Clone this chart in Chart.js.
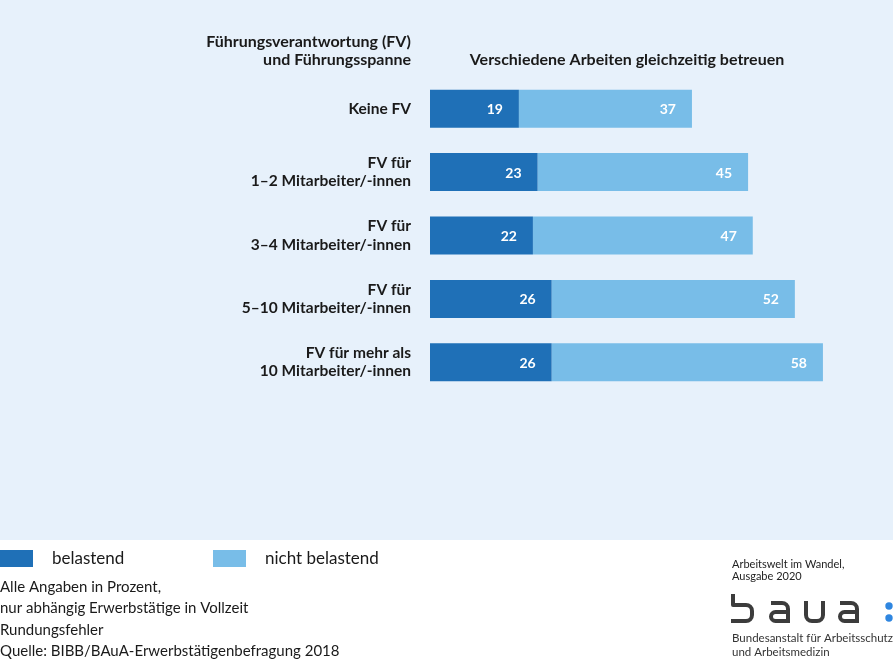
<!DOCTYPE html>
<html lang="de">
<head>
<meta charset="utf-8">
<title>Verschiedene Arbeiten gleichzeitig betreuen</title>
<script src="https://cdn.jsdelivr.net/npm/chart.js@4.4.1/dist/chart.umd.min.js"></script>
<style>
  html, body { margin: 0; padding: 0; background: #fff; }
  #wrap { position: relative; width: 893px; height: 663px; }
</style>
</head>
<body>
<div id="wrap"><canvas id="chart" width="893" height="663"></canvas></div>
<script>
// Daten
const categories = [
    'Keine FV',
    ['FV für', '1–2 Mitarbeiter/-innen'],
    ['FV für', '3–4 Mitarbeiter/-innen'],
    ['FV für', '5–10 Mitarbeiter/-innen'],
    ['FV für mehr als', '10 Mitarbeiter/-innen']
];
const seriesNames = ['belastend', 'nicht belastend'];
const belastend = [19, 23, 22, 26, 26];
const nichtBelastend = [37, 45, 47, 52, 58];

const FONT = 'Lato, "Noto Sans", sans-serif';
const colors = ['#1f70b7', '#78bde8'];
const textColor = '#1a1a1a';

// Hintergrund, Überschriften, Legende, Fußnoten, Logo
const decorPlugin = {
    id: 'decor',
    beforeDraw(chart) {
        const ctx = chart.ctx;
        ctx.save();
        ctx.fillStyle = '#ffffff';
        ctx.fillRect(0, 0, chart.width, chart.height);
        ctx.fillStyle = '#e7f1fb';
        ctx.fillRect(0, 0, chart.width, 540);
        ctx.restore();
    },
    afterDraw(chart) {
        const ctx = chart.ctx;
        ctx.save();
        ctx.fillStyle = textColor;
        ctx.textBaseline = 'middle';

        // Überschriften
        ctx.font = 'bold 16px ' + FONT;
        ctx.textAlign = 'right';
        ctx.fillText('Führungsverantwortung (FV)', 411, 42);
        ctx.fillText('und Führungsspanne', 411, 60);
        ctx.textAlign = 'center';
        ctx.fillText('Verschiedene Arbeiten gleichzeitig betreuen', 627, 60);

        // Legende
        ctx.textAlign = 'left';
        ctx.font = '17px ' + FONT;
        const legendX = [0, 213];
        chart.data.datasets.forEach((ds, i) => {
            ctx.fillStyle = ds.backgroundColor;
            ctx.fillRect(legendX[i], 550, 33, 17);
            ctx.fillStyle = textColor;
            ctx.fillText(ds.label, legendX[i] + 52, 559);
        });

        // Fußnoten
        ctx.font = '15px ' + FONT;
        const notes = [
            'Alle Angaben in Prozent,',
            'nur abhängig Erwerbstätige in Vollzeit',
            'Rundungsfehler',
            'Quelle: BIBB/BAuA-Erwerbstätigenbefragung 2018'
        ];
        notes.forEach((t, i) => ctx.fillText(t, 0, 587 + i * 21.5));

        // Logo-Block
        ctx.font = '11px ' + FONT;
        ctx.fillStyle = '#222';
        ctx.fillText('Arbeitswelt im Wandel,', 732, 564);
        ctx.fillText('Ausgabe 2020', 732, 576);
        ctx.font = '11.5px ' + FONT;
        ctx.fillStyle = '#333';
        ctx.fillText('Bundesanstalt für Arbeitsschutz', 732, 638);
        ctx.fillText('und Arbeitsmedizin', 732, 652);

        ctx.strokeStyle = '#3c3c3c';
        ctx.lineWidth = 4;
        ctx.lineJoin = 'round';
        // b
        ctx.beginPath();
        ctx.moveTo(733, 594);
        ctx.lineTo(733, 605);
        ctx.lineTo(746, 605);
        ctx.arcTo(752, 605, 752, 611, 6);
        ctx.lineTo(752, 615);
        ctx.arcTo(752, 621, 746, 621, 6);
        ctx.lineTo(731, 621);
        ctx.stroke();
        // a, u, a
        const drawA = x0 => {
            const x1 = x0 + 17;
            ctx.beginPath();
            ctx.moveTo(x0, 603);
            ctx.lineTo(x1 - 6, 603);
            ctx.arcTo(x1, 603, x1, 609, 6);
            ctx.lineTo(x1, 623);
            ctx.moveTo(x1, 621);
            ctx.lineTo(x0 + 5, 621);
            ctx.arcTo(x0, 621, x0, 616.5, 4.5);
            ctx.arcTo(x0, 612, x0 + 5, 612, 4.5);
            ctx.lineTo(x1, 612);
            ctx.stroke();
        };
        drawA(771);
        ctx.beginPath();
        ctx.moveTo(806, 601);
        ctx.lineTo(806, 615);
        ctx.arcTo(806, 621, 812, 621, 6);
        ctx.lineTo(817, 621);
        ctx.arcTo(823, 621, 823, 615, 6);
        ctx.lineTo(823, 601);
        ctx.stroke();
        drawA(840);
        ctx.fillStyle = '#2f86e0';
        ctx.beginPath();
        ctx.arc(889, 606, 3.7, 0, Math.PI * 2);
        ctx.fill();
        ctx.beginPath();
        ctx.arc(889, 618, 3.7, 0, Math.PI * 2);
        ctx.fill();
        ctx.restore();
    }
};

// Werte in den Balken
const valuePlugin = {
    id: 'values',
    afterDatasetsDraw(chart) {
        const ctx = chart.ctx;
        ctx.save();
        ctx.font = 'bold 14px ' + FONT;
        ctx.fillStyle = '#ffffff';
        ctx.textAlign = 'right';
        ctx.textBaseline = 'middle';
        chart.data.datasets.forEach((ds, i) => {
            chart.getDatasetMeta(i).data.forEach((bar, j) => {
                ctx.fillText(ds.data[j], bar.x - 16, bar.y + 1);
            });
        });
        ctx.restore();
    }
};

new Chart(document.getElementById('chart'), {
    type: 'bar',
    data: {
        labels: categories,
        datasets: [
            { label: seriesNames[0], data: belastend, backgroundColor: colors[0], borderWidth: 0 },
            { label: seriesNames[1], data: nichtBelastend, backgroundColor: colors[1], borderWidth: 0 }
        ]
    },
    options: {
        indexAxis: 'y',
        responsive: false,
        animation: false,
        layout: { padding: { top: 77, bottom: 269, left: 0, right: 42 } },
        datasets: { bar: { categoryPercentage: 1, barPercentage: 0.6 } },
        scales: {
            x: { stacked: true, min: 0, max: 90, display: false },
            y: {
                stacked: true,
                grid: { display: false, drawTicks: false },
                border: { display: false },
                ticks: {
                    color: textColor,
                    padding: 19,
                    font: { family: FONT, size: 15.5, weight: 'bold', lineHeight: 1.18 }
                },
                afterFit(scale) { scale.width = 430; }
            }
        },
        plugins: { legend: { display: false }, tooltip: { enabled: false } }
    },
    plugins: [decorPlugin, valuePlugin]
});
</script>
</body>
</html>
